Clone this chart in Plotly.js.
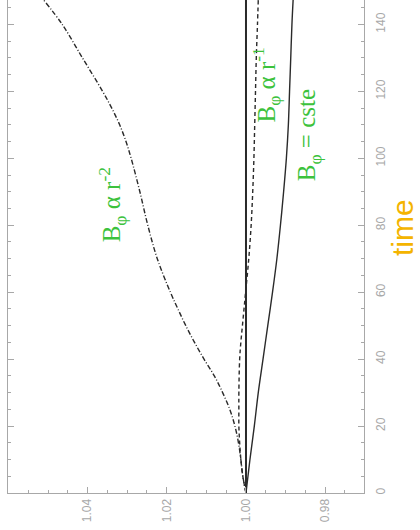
<!DOCTYPE html>
<html>
<head>
<meta charset="utf-8">
<script src="https://cdn.plot.ly/plotly-3.0.1.min.js"></script>
<style>
  html, body { margin: 0; padding: 0; background: #ffffff; }
  #chart { width: 420px; height: 530px; }
</style>
</head>
<body>
<div id="chart"></div>
<script>
// Normalised field value versus time for three azimuthal-field profiles.
// The figure is laid out sideways: time runs up the right-hand axis,
// the normalised value runs along the bottom (reversed).

const timeR2 = [0, 5, 10, 15, 20, 25, 30, 35, 40, 45, 50, 55, 60, 70, 80, 90, 100, 105, 110, 115, 120, 130, 140, 147.3];
const valueR2 = [1.0000, 1.0008, 1.0013, 1.0019, 1.0028, 1.0041, 1.0059, 1.0080, 1.0106, 1.0130, 1.0152, 1.0172, 1.0191,
                 1.0224, 1.0248, 1.0268, 1.0290, 1.0303, 1.0319, 1.0339, 1.0362, 1.0413, 1.0464, 1.0511];

const timeR1 = [0, 5, 10, 15, 20, 25, 30, 40, 45, 50, 55, 60, 70, 80, 90, 100, 110, 120, 130, 140, 147.3];
const valueR1 = [1.0000, 1.0008, 1.0013, 1.0016, 1.0018, 1.0018, 1.0018, 1.0016, 1.0013, 1.0009, 1.0005, 1.0001,
                 0.9993, 0.9987, 0.9983, 0.9980, 0.9978, 0.9976, 0.9974, 0.9971, 0.9969];

const timeConst = [0, 5, 10, 20, 30, 40, 50, 60, 70, 80, 90, 100, 110, 120, 130, 140, 147.3];
const valueConst = [1.0000, 0.9995, 0.9990, 0.9979, 0.9969, 0.9957, 0.9945, 0.9933, 0.9922, 0.9913, 0.9905,
                    0.9898, 0.9893, 0.9890, 0.9887, 0.9884, 0.9881];

// unit reference level
const timeRef = [0, 147.3];
const valueRef = [1.0, 1.0];

const valueTicks = [0.98, 1.00, 1.02, 1.04];

const labelR2 = 'B<sub>φ</sub> α r<sup>-2</sup>';
const labelR1 = 'B<sub>φ</sub> α r<sup>-1</sup>';
const labelConst = 'B<sub>φ</sub> = cste';
const timeTitle = 'time';

const ink = '#2a2a2a';
const axisGrey = '#a8a8a8';
const labelGreen = '#3cc23c';

const traces = [
  { x: valueRef, y: timeRef, mode: 'lines', line: { color: ink, width: 2 }, hoverinfo: 'skip' },
  { x: valueR2, y: timeR2, mode: 'lines', line: { color: ink, width: 1.4, dash: '5px,2px,1px,2px', shape: 'spline' } },
  { x: valueR1, y: timeR1, mode: 'lines', line: { color: ink, width: 1.4, dash: '4px,3px', shape: 'spline' } },
  { x: valueConst, y: timeConst, mode: 'lines', line: { color: ink, width: 1.4, shape: 'spline' } }
];

const greenFont = { family: 'Liberation Serif, Times New Roman, serif', size: 25, color: labelGreen };

const layout = {
  width: 420,
  height: 530,
  margin: { l: 8, r: 56, t: 0, b: 37, pad: 0 },
  paper_bgcolor: '#ffffff',
  plot_bgcolor: '#ffffff',
  showlegend: false,
  font: { family: 'Liberation Sans, Arial, sans-serif', size: 12, color: axisGrey },
  xaxis: {
    range: [1.0601, 0.9702],
    tickvals: valueTicks,
    tickformat: '.2f',
    tickangle: -90,
    ticks: 'inside',
    ticklen: 6,
    tickwidth: 1,
    tickcolor: axisGrey,
    minor: { dtick: 0.005, tick0: 1.0, ticks: 'inside', ticklen: 3, tickcolor: axisGrey },
    showline: true,
    linecolor: axisGrey,
    linewidth: 1,
    mirror: false,
    showgrid: false,
    zeroline: false,
    tickfont: { size: 12, color: axisGrey }
  },
  yaxis: {
    range: [0, 147.3],
    side: 'right',
    dtick: 20,
    tick0: 0,
    tickangle: -90,
    ticks: 'inside',
    ticklen: 6,
    tickwidth: 1,
    tickcolor: axisGrey,
    minor: { dtick: 5, ticks: 'inside', ticklen: 3, tickcolor: axisGrey },
    showline: true,
    linecolor: axisGrey,
    linewidth: 1,
    mirror: 'ticks',
    showgrid: false,
    zeroline: false,
    ticklabelstandoff: 6,
    tickfont: { size: 12, color: axisGrey }
  },
  annotations: [
    { x: 1.0338, y: 86, xref: 'x', yref: 'y', text: labelR2, textangle: -90, showarrow: false, font: greenFont },
    { x: 0.9950, y: 122, xref: 'x', yref: 'y', text: labelR1, textangle: -90, showarrow: false, font: greenFont },
    { x: 0.9840, y: 107, xref: 'x', yref: 'y', text: labelConst, textangle: -90, showarrow: false, font: greenFont },
    { x: 1.107, y: 0.5375, xref: 'paper', yref: 'paper', xanchor: 'center', yanchor: 'middle',
      text: timeTitle, textangle: -90, showarrow: false,
      font: { family: 'Liberation Sans, Arial, sans-serif', size: 30, color: '#f4b400' } }
  ]
};

Plotly.newPlot('chart', traces, layout, { staticPlot: true, displayModeBar: false });
</script>
</body>
</html>
